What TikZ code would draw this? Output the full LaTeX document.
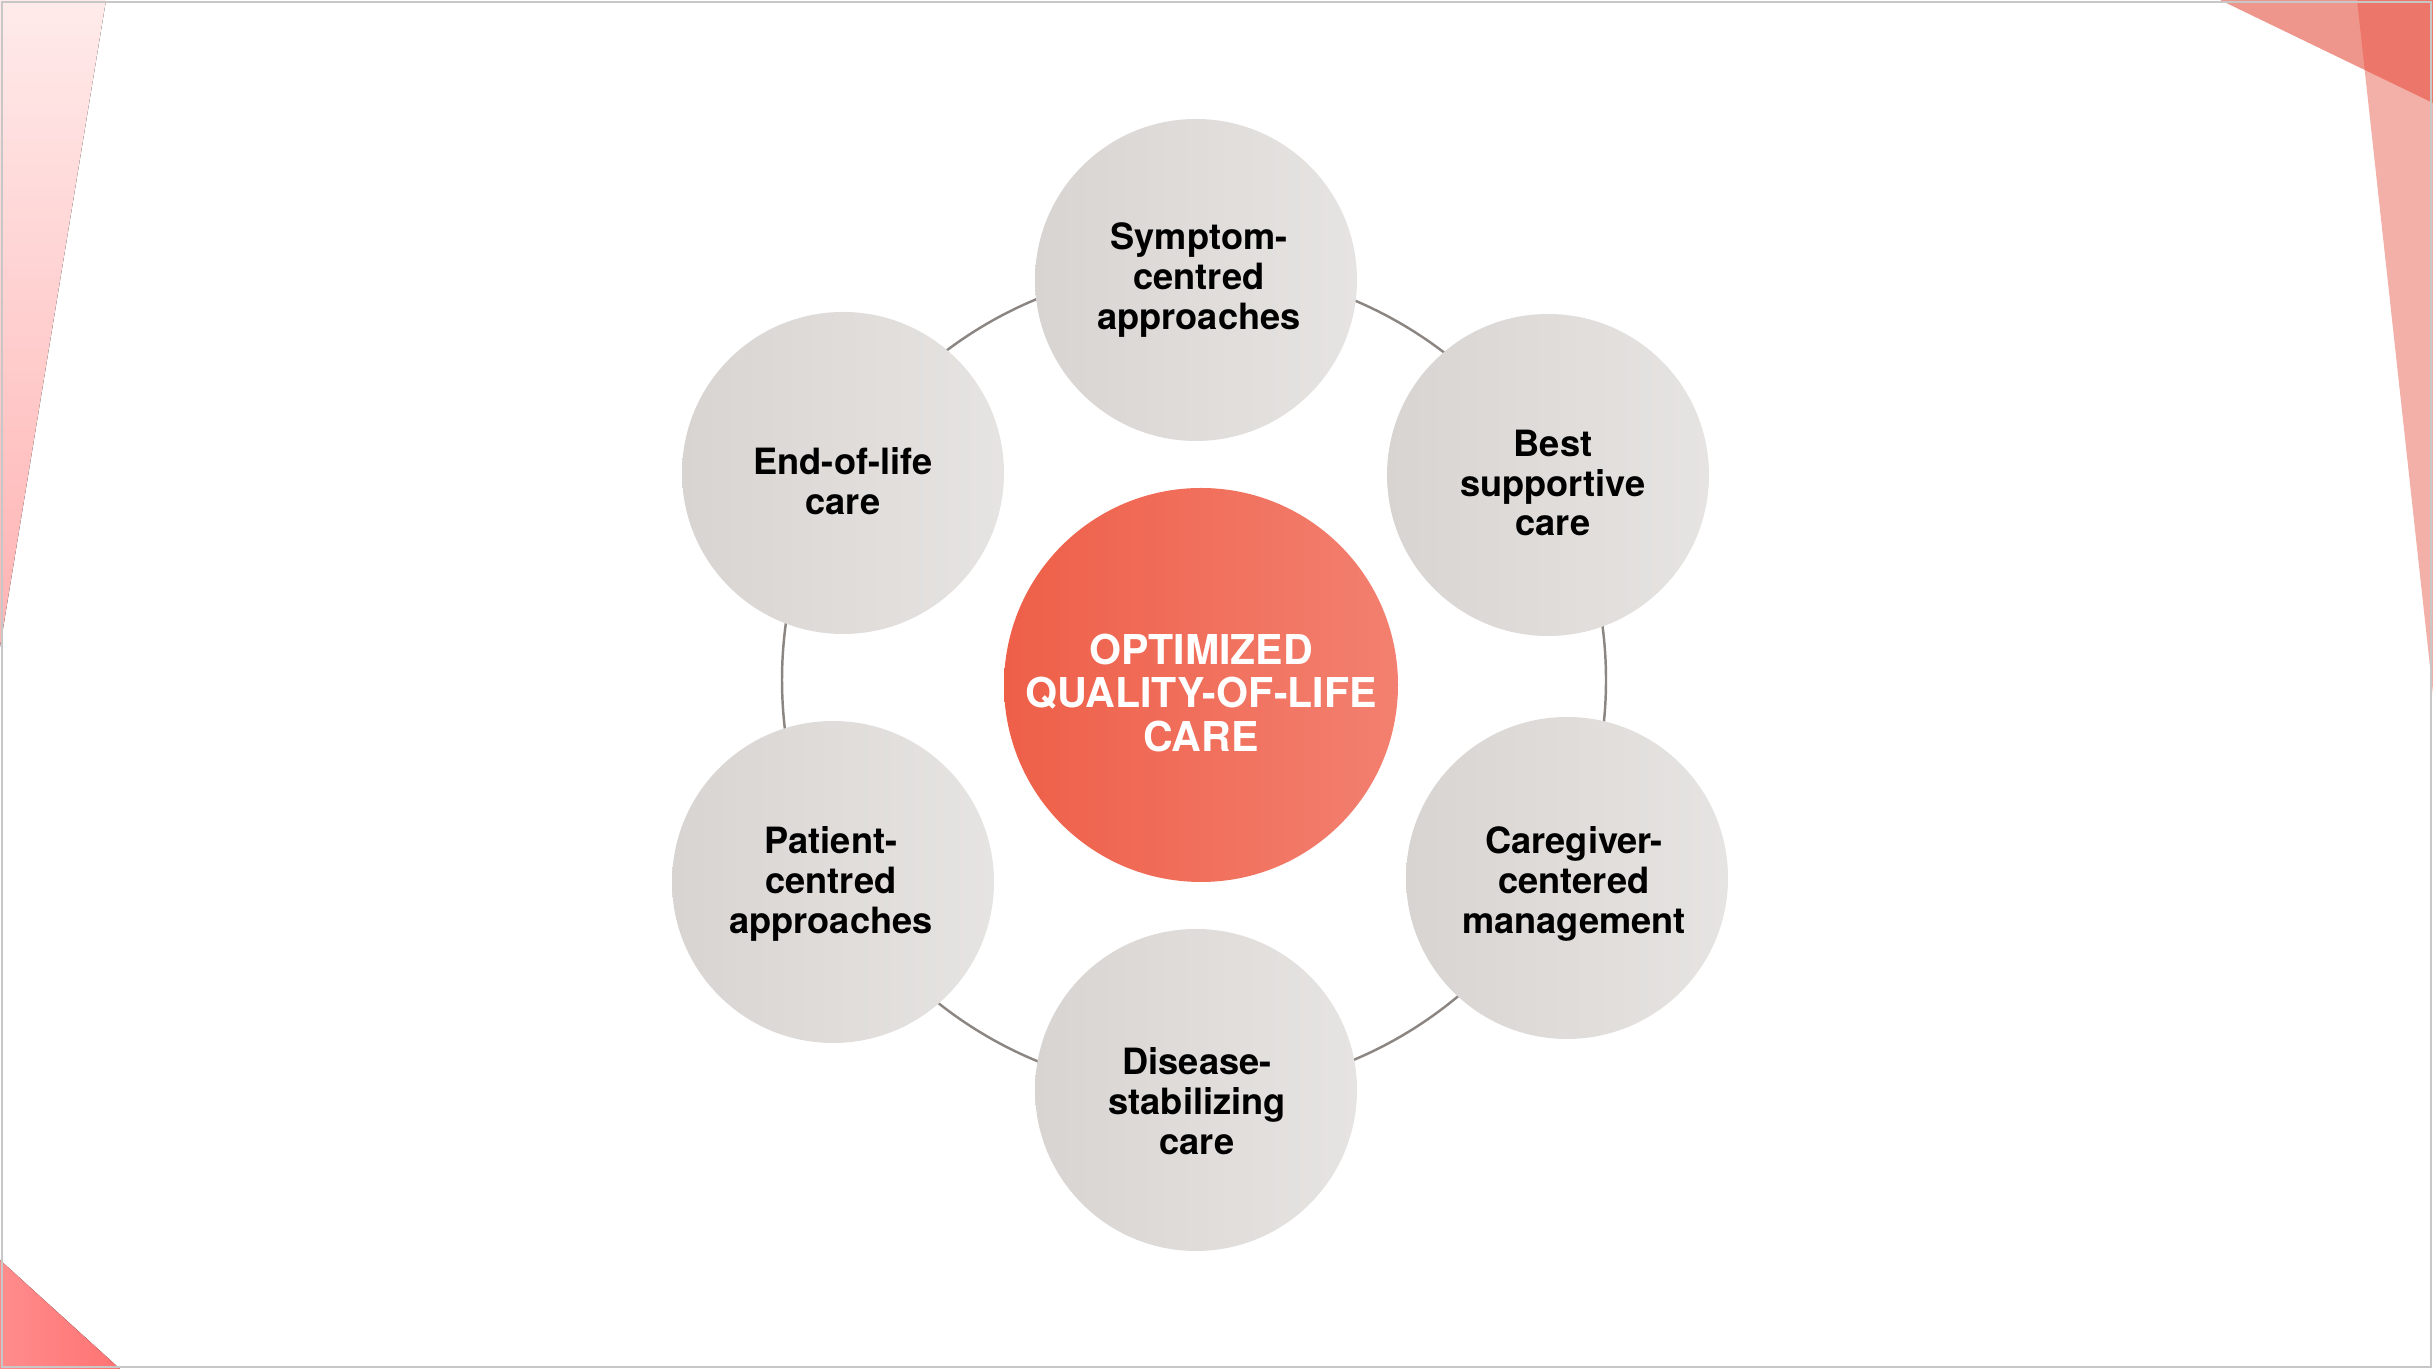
\documentclass[tikz,border=0pt]{standalone}
\usepackage{fontspec}
\setmainfont{TeX Gyre Heros}
\definecolor{ringgray}{HTML}{8C8682}
\definecolor{discleft}{HTML}{D8D4D1}
\definecolor{discright}{HTML}{E6E4E2}
\definecolor{hubleft}{HTML}{EE5F48}
\definecolor{hubright}{HTML}{F38070}
\definecolor{cornerred}{HTML}{E5503F}
\tikzset{
    disc/.style={circle, minimum size=3.22cm, inner sep=0pt, left color=discleft, right color=discright},
    hub/.style={circle, minimum size=3.94cm, inner sep=0pt, left color=hubleft, right color=hubright},
    disctext/.style={align=center, font=\fontsize{10.3}{11.3}\selectfont\bfseries, text=black},
    hubtext/.style={align=center, font=\fontsize{11.7}{12.3}\selectfont\bfseries, text=white}
}
\begin{document}
\begin{tikzpicture}
        \useasboundingbox (0,0) rectangle (24.33,13.69);
        %corners
        \fill[top color=red!8, bottom color=red!30] (0,13.69) -- (1.06,13.69) -- (0,7.22) -- cycle;
        \fill[left color=red!45, right color=red!55] (0,0) -- (1.2,0) -- (0,1.09) -- cycle;
        \fill[cornerred, opacity=0.6] (22.2,13.69) -- (24.33,13.69) -- (24.33,12.66) -- cycle;
        \fill[cornerred, opacity=0.45] (23.57,13.69) -- (24.33,13.69) -- (24.33,6.75) -- cycle;
        \draw[black!22, line width=0.8pt] (0.02,0.02) rectangle (24.31,13.67);
        
        %ring
        \coordinate (ringc) at (11.94,6.89);
        \draw[ringgray, line width=0.7pt] (ringc) circle (4.12);
        
        \node[hub] (hub) at (12.01,6.84) {};
        \node[hubtext] at ([yshift=-0.08cm]hub) {OPTIMIZED\\QUALITY-OF-LIFE\\CARE};
        
        \node[disc] (symptom) at (11.96,10.89) {};
        \node[disc] (best) at (15.48,8.94) {};
        \node[disc] (caregiver) at (15.67,4.91) {};
        \node[disc] (disease) at (11.96,2.79) {};
        \node[disc] (patient) at (8.33,4.87) {};
        \node[disc] (endlife) at (8.43,8.96) {};
        
        \node[disctext] at ([xshift=0.03cm]symptom) {Symptom-\\centred\\approaches};
        \node[disctext] at ([xshift=0.05cm,yshift=-0.08cm]best) {Best\\supportive\\care};
        \node[disctext] at ([xshift=0.07cm,yshift=-0.06cm]caregiver) {Caregiver-\\centered\\management};
        \node[disctext] at ([xshift=0.01cm,yshift=-0.11cm]disease) {Disease-\\stabilizing\\care};
        \node[disctext] at ([xshift=-0.02cm,yshift=-0.02cm]patient) {Patient-\\centred\\approaches};
        \node[disctext] at ([yshift=-0.08cm]endlife) {End-of-life\\care};
        
    \end{tikzpicture}
\end{document}
